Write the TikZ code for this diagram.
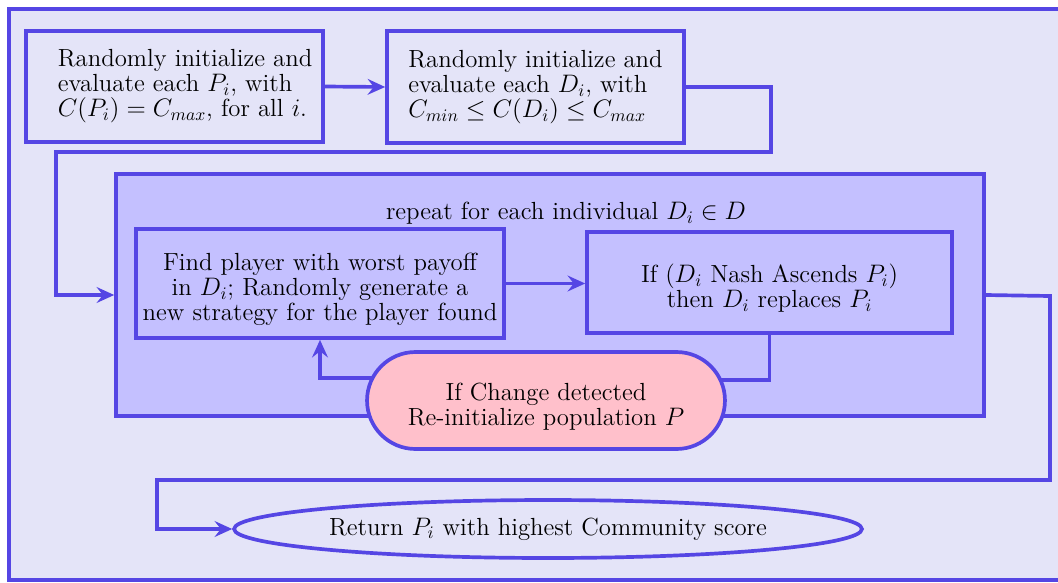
\documentclass[tikz,border=0pt]{standalone}
\usepackage{fontspec}
\usetikzlibrary{arrows.meta,calc,shapes.geometric}
\definecolor{edge}{RGB}{85,70,228}
\definecolor{outerfill}{RGB}{228,228,248}
\definecolor{innerfill}{RGB}{196,192,255}
\definecolor{pinkfill}{RGB}{255,192,203}
\newcommand{\bigtxt}{\fontsize{14.1pt}{14.2pt}\selectfont}
\newcommand{\ind}{\hspace*{12pt}}
\newcommand{\lowr}{\rule{0pt}{17pt}}
\tikzset{
  txt/.style={font=\bigtxt},
  stepbox/.style={txt,draw=edge,line width=2.1pt,inner sep=0pt},
  conn/.style={draw=edge,line width=2.1pt},
  arr/.style={conn,-{Stealth[length=10pt,width=9pt,inset=3.5pt]}}}
\begin{document}
\begin{tikzpicture}[x=0.02cm,y=-0.02cm]
\useasboundingbox (0,0) rectangle (1058,582);
\fill[white] (0,0) rectangle (1058,582);
\draw[conn,fill=outerfill] (9,9) rectangle (1080,580);
% inner loop box
\node[stepbox,fill=innerfill,minimum width=17.36cm,minimum height=4.84cm] (inner) at (550,295) {};
\node[txt] (lbl) at (566,213) {repeat for each individual $D_i \in D$};
% top boxes
\node[stepbox,minimum width=5.94cm,minimum height=2.22cm,align=left] (A) at (174.5,86.5)
  {\ind Randomly initialize and\\\ind evaluate each $P_i$, with\\\ind $C(P_i)=C_{max}$, for all $i$.};
\node[stepbox,minimum width=5.94cm,minimum height=2.24cm,align=left] (B) at (535.5,87)
  {Randomly initialize and\\evaluate each $D_i$, with\\$C_{min}\le C(D_i)\le C_{max}$};
% inner boxes
\node[stepbox,minimum width=7.36cm,minimum height=2.18cm,align=center] (C) at (320,283.5)
  {\lowr Find player with worst payoff\\in $D_i$; Randomly generate a\\new strategy for the player found};
\node[stepbox,minimum width=7.3cm,minimum height=2.02cm,align=center] (D) at (769.5,282.5)
  {\lowr If ($D_i$ Nash Ascends $P_i$)\\then $D_i$ replaces $P_i$};
\coordinate (Ec) at (546,400.5);
% connectors
\draw[arr] (A.east) -- (B.west);
\draw[arr] (B.east) -- (771,87) -- (771,152) -- (56,152) |- (inner.west);
\draw[arr] (C.east) -- (D.west |- C.east);
\draw[conn] (D.south) |- ($(Ec)+(0,-20.5)$);
\draw[arr] ($(Ec)+(-100,-22.5)$) -| (C.south);
% change-detection pill
\node[stepbox,fill=pinkfill,minimum width=7.16cm,minimum height=1.94cm,rounded corners=0.97cm,align=center] (E) at (Ec)
  {\lowr If Change detected\\Re-initialize population $P$};
% return
\node[stepbox,ellipse,minimum width=12.56cm,minimum height=1.16cm] (F) at (548,529)
  {Return $P_i$ with highest Community score};
\draw[arr] (inner.east) -- (1050,296) -- (1050,480) -- (157,480) |- (F.west);
\end{tikzpicture}
\end{document}
